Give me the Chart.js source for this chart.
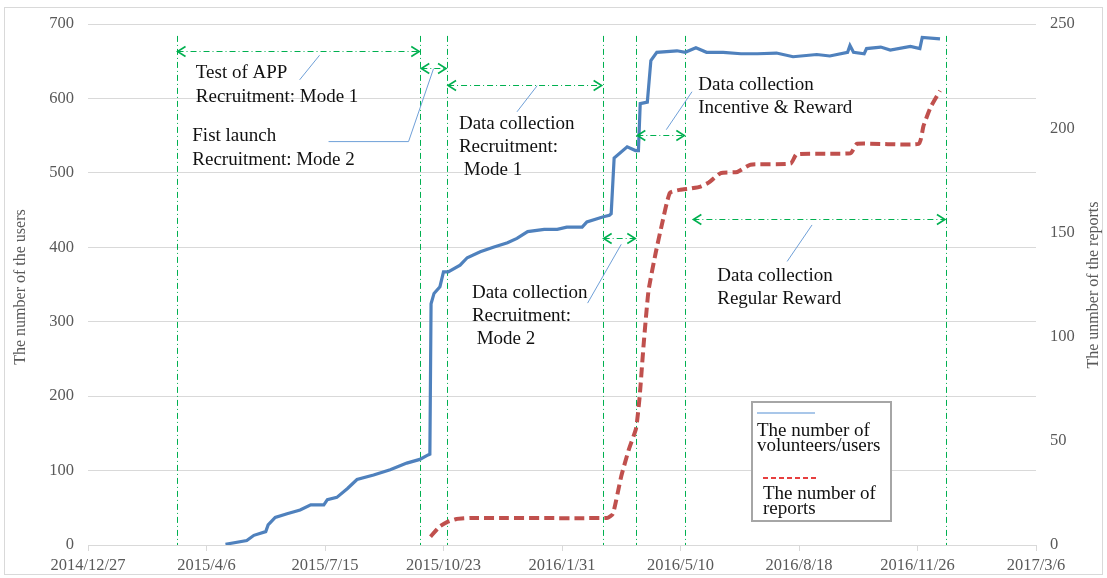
<!DOCTYPE html>
<html>
<head>
<meta charset="utf-8">
<script src="https://cdn.jsdelivr.net/npm/chart.js@4.4.1/dist/chart.umd.min.js"></script>
<style>
  html, body { margin: 0; padding: 0; background: #fff; }
  canvas { display: block; }
</style>
</head>
<body>
<canvas id="usersChart" width="1107" height="578"></canvas>
<script>
// day 0 = 2014/12/27, x axis runs in days
const START = Date.UTC(2014, 11, 27);

// volunteers / users (left axis)
const userDays = [116, 134, 140, 150, 152, 158, 168, 179, 188, 199, 202, 210, 219, 227, 241, 255, 269, 280, 287, 288.5,
  289.5, 292, 297, 300, 304, 314, 320, 331, 342, 354, 362, 371, 385, 396, 404, 417, 421, 435, 440, 441.5,
  444, 455, 462, 464.5, 466, 472, 475, 480, 497, 504, 513, 522, 536, 551, 565, 581, 595, 615, 626, 641,
  643, 646, 655, 657, 669, 677, 694, 702, 704, 719];
const userCounts = [1, 6, 13, 18, 27, 37, 42, 47, 54, 54, 61, 64, 76, 88, 94, 101, 110, 115, 121, 122,
  324, 338, 347, 367, 367, 376, 386, 394, 400, 406, 412, 421, 424, 424, 427, 427, 434, 441, 443, 445,
  520, 535, 530, 530, 593, 595, 651, 662, 664, 662, 668, 662, 662, 660, 660, 661, 656, 659, 657, 662,
  671, 662, 660, 667, 669, 665, 670, 667, 682, 680];

// reports (right axis)
const reportDays = [289, 297, 303, 311, 323, 438, 443, 450, 456.5, 462.5, 465.5, 469, 473, 479, 484,
  491, 500, 508, 517, 524, 534, 548, 559, 593, 598, 643.5, 649, 701, 705, 711, 719];
const reportCounts = [4, 9, 11, 12.5, 13, 13, 15, 33, 46, 56, 71, 97, 122, 140, 153,
  169, 170.5, 171, 172, 174, 178.5, 179, 182.5, 183, 187.5, 188, 192.5, 192.5, 201, 210, 218];

// axis ticks
const xTickDays = [0, 100, 200, 300, 400, 500, 600, 700, 800];
const userTicks = [0, 100, 200, 300, 400, 500, 600, 700];
const reportTicks = [0, 50, 100, 150, 200, 250];

// phase boundaries (days)
const phaseDays = [74.7, 280.4, 303, 434.3, 462.7, 504.1, 724];

// arrows: [fromDay, toDay, level on users axis]
const phaseArrows = [
  [74.7, 280.4, 664],
  [280.4, 303, 641],
  [303, 434.3, 618],
  [462.7, 504.1, 551],
  [434.3, 462.7, 413],
  [510, 724, 438]
];

// leader lines: list of [day, users] points
const leaders = [
  [[178.6, 625], [195.4, 658]],
  [[203, 542], [270.5, 542], [291.6, 640]],
  [[362, 582], [379, 617]],
  [[488, 558], [509.7, 609]],
  [[421.6, 325], [450, 404]],
  [[590, 381], [611, 430]]
];

// notes: [day, users, text]
const notes = [
  [91, 634, "Test of APP"],
  [91, 602, "Recruitment: Mode 1"],
  [88, 549, "Fist launch"],
  [88, 517, "Recruitment: Mode 2"],
  [313, 566, "Data collection"],
  [313, 535, "Recruitment:"],
  [313, 504, " Mode 1"],
  [515, 618, "Data collection"],
  [515, 587, "Incentive & Reward"],
  [324, 338, "Data collection"],
  [324, 308, "Recruitment:"],
  [324, 277, " Mode 2"],
  [531, 361, "Data collection"],
  [531, 330, "Regular Reward"]
];

const SERIF = '"Liberation Serif", "Times New Roman", serif';
const GREEN = "#00B050";
const LEADER = "#6FA0D8";

function dayLabel(d) {
  const t = new Date(START + d * 86400000);
  return t.getUTCFullYear() + "/" + (t.getUTCMonth() + 1) + "/" + t.getUTCDate();
}

function chevron(ctx, x, y, dir) {
  ctx.beginPath();
  ctx.moveTo(x - dir * 8, y - 5);
  ctx.lineTo(x, y);
  ctx.lineTo(x - dir * 8, y + 5);
  ctx.stroke();
}

const annotations = {
  id: "annotations",
  beforeDraw(chart) {
    const c = chart.ctx;
    c.save();
    c.fillStyle = "#fff";
    c.fillRect(0, 0, chart.width, chart.height);
    c.strokeStyle = "#D9D9D9";
    c.lineWidth = 1;
    c.strokeRect(4.5, 7.5, chart.width - 9, chart.height - 11);
    c.restore();
  },
  beforeDatasetsDraw(chart) {
    const c = chart.ctx, x = chart.scales.x, y = chart.scales.y;
    c.save();
    c.strokeStyle = GREEN;
    c.lineWidth = 1;
    c.setLineDash([6, 3, 1, 3]);
    phaseDays.forEach((d) => {
      const px = Math.round(x.getPixelForValue(d)) + 0.5;
      c.beginPath();
      c.moveTo(px, y.getPixelForValue(684));
      c.lineTo(px, y.getPixelForValue(0));
      c.stroke();
    });
    c.restore();
  },
  afterDatasetsDraw(chart) {
    const c = chart.ctx, x = chart.scales.x, y = chart.scales.y;
    c.save();
    // arrows
    c.strokeStyle = GREEN;
    phaseArrows.forEach(([d0, d1, v]) => {
      const x0 = x.getPixelForValue(d0) + 1, x1 = x.getPixelForValue(d1) - 1;
      const py = Math.round(y.getPixelForValue(v)) + 0.5;
      c.lineWidth = 1.2;
      c.setLineDash([6, 3, 1, 3]);
      c.beginPath();
      c.moveTo(x0, py);
      c.lineTo(x1, py);
      c.stroke();
      c.setLineDash([]);
      c.lineWidth = 1.6;
      chevron(c, x0, py, -1);
      chevron(c, x1, py, 1);
    });
    // leader lines
    c.strokeStyle = LEADER;
    c.lineWidth = 1;
    leaders.forEach((pts) => {
      c.beginPath();
      pts.forEach(([d, v], i) => {
        const px = x.getPixelForValue(d), py = y.getPixelForValue(v);
        if (i === 0) c.moveTo(px, py); else c.lineTo(px, py);
      });
      c.stroke();
    });
    // notes
    c.fillStyle = "#111";
    c.font = "19px " + SERIF;
    c.textBaseline = "middle";
    c.textAlign = "left";
    notes.forEach(([d, v, txt]) => {
      c.fillText(txt, x.getPixelForValue(d), y.getPixelForValue(v));
    });
    c.restore();
  },
  afterDraw(chart) {
    const c = chart.ctx;
    c.save();
    // axis titles
    c.fillStyle = "#595959";
    c.font = "16px " + SERIF;
    c.textAlign = "center";
    c.textBaseline = "middle";
    c.translate(21, 287);
    c.rotate(-Math.PI / 2);
    c.fillText("The number of the users", 0, 0);
    c.setTransform(1, 0, 0, 1, 0, 0);
    c.translate(1094, 285);
    c.rotate(-Math.PI / 2);
    c.fillText("The unmber of the reports", 0, 0);
    c.setTransform(1, 0, 0, 1, 0, 0);
    // legend box
    c.fillStyle = "#fff";
    c.fillRect(752, 402, 139, 119);
    c.strokeStyle = "#A6A6A6";
    c.lineWidth = 2;
    c.strokeRect(752, 402, 139, 119);
    c.strokeStyle = "#8DB4E2";
    c.lineWidth = 1.5;
    c.beginPath();
    c.moveTo(757, 413);
    c.lineTo(815, 413);
    c.stroke();
    c.strokeStyle = "#E00000";
    c.setLineDash([5, 3]);
    c.beginPath();
    c.moveTo(763, 478);
    c.lineTo(818, 478);
    c.stroke();
    c.setLineDash([]);
    c.fillStyle = "#111";
    c.font = "19px " + SERIF;
    c.textAlign = "left";
    c.textBaseline = "middle";
    c.fillText("The number of", 757, 431);
    c.fillText("volunteers/users", 757, 446);
    c.fillText("The number of", 763, 494);
    c.fillText("reports", 763, 509);
    c.restore();
  }
};

const tickFont = { family: SERIF, size: 16.5 };

new Chart(document.getElementById("usersChart"), {
  type: "line",
  data: {
    datasets: [
      {
        label: "The number of volunteers/users",
        data: userDays.map((d, i) => ({ x: d, y: userCounts[i] })),
        borderColor: "#4F81BD",
        borderWidth: 3.2,
        pointRadius: 0,
        tension: 0,
        yAxisID: "y",
      },
      {
        label: "The number of reports",
        data: reportDays.map((d, i) => ({ x: d, y: reportCounts[i] })),
        borderColor: "#C0504D",
        borderWidth: 4,
        borderDash: [10, 5],
        pointRadius: 0,
        tension: 0.15,
        yAxisID: "y2",
      },
    ],
  },
  options: {
    responsive: false,
    animation: false,
    layout: { padding: { top: 24, left: 0, right: 0, bottom: 0 } },
    plugins: {
      legend: { display: false },
      tooltip: { enabled: false },
    },
    scales: {
      x: {
        type: "linear",
        min: 0,
        max: 800,
        afterBuildTicks: (s) => { s.ticks = xTickDays.map((v) => ({ value: v })); },
        afterFit: (s) => { s.height = 33; },
        ticks: {
          callback: (v) => dayLabel(v),
          font: tickFont,
          color: "#595959",
          maxRotation: 0,
          autoSkip: false,
          padding: 5,
        },
        grid: { drawOnChartArea: false, tickLength: 6, color: "#D9D9D9" },
        border: { color: "#D9D9D9" },
      },
      y: {
        position: "left",
        min: 0,
        max: 700,
        afterBuildTicks: (s) => { s.ticks = userTicks.map((v) => ({ value: v })); },
        afterFit: (s) => { s.width = 88; },
        ticks: { font: tickFont, color: "#595959", padding: 14 },
        grid: { color: "#D9D9D9", drawTicks: false },
        border: { display: false },
      },
      y2: {
        position: "right",
        min: 0,
        max: 250,
        afterBuildTicks: (s) => { s.ticks = reportTicks.map((v) => ({ value: v })); },
        afterFit: (s) => { s.width = 71; },
        ticks: { font: tickFont, color: "#595959", padding: 14 },
        grid: { drawOnChartArea: false, drawTicks: false },
        border: { display: false },
      },
    },
  },
  plugins: [annotations],
});
</script>
</body>
</html>
